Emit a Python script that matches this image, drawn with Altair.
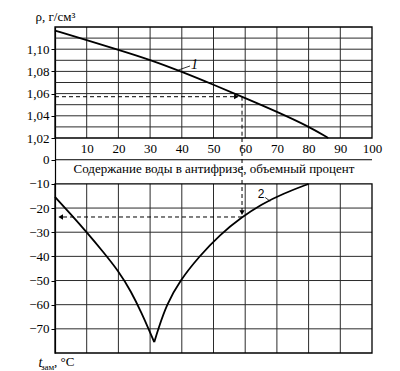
import altair as alt
import pandas as pd

# ---------------- data ----------------
water_1 = [0, 10, 20, 30, 40, 50, 60, 70, 80, 86.2]
density = [1.1167, 1.1082, 1.0995, 1.0905, 1.0797, 1.0680, 1.0560, 1.0437, 1.0305, 1.0200]

water_2_left = [0, 5, 10, 15, 20, 24, 27.5, 29.5, 31.3]
freeze_2_left = [-15.4, -22.6, -30, -37.8, -46, -54.5, -64, -70, -75.5]
water_2_right = [31.3, 32.6, 35.2, 39.4, 45.5, 52, 59, 65, 72, 80]
freeze_2_right = [-75.5, -70, -60, -50, -40, -31, -23.7, -18.5, -14, -10]

x_ticks = [10, 20, 30, 40, 50, 60, 70, 80, 90, 100]
x_grid = [10, 20, 30, 40, 50, 60, 70, 80, 90]
rho_ticks = [1.02, 1.04, 1.06, 1.08, 1.10]
rho_grid = [1.03, 1.04, 1.05, 1.06, 1.07, 1.08, 1.09, 1.10, 1.11]
t_ticks = [0, -10, -20, -30, -40, -50, -60, -70]
t_grid = [-20, -30, -40, -50, -60, -70]

x_dom = [0, 100]
rho_dom = [1.02, 1.12]
t_frame = [-10, -80]
t_dom = [-80, 9]

ex_water = 59        # worked example: 59 % water
ex_rho = 1.0572
ex_t = -23.7

SERIF = "Liberation Serif, Times New Roman, serif"
GRID = "#2b2b2b"
X_TITLE = "Содержание воды в антифризе, объемный процент"

xs = alt.Scale(domain=x_dom, nice=False, zero=False)
TOP = dict(domain=rho_dom, range=[111, 0], nice=False, zero=False)
BOT = dict(domain=t_dom, range=[326, 111], nice=False, zero=False)

x_axis = alt.Axis(values=x_ticks, orient="bottom", offset=-215, ticks=False, tickSize=0,
                  domain=False, grid=False, labelPadding=4, labelFont=SERIF, labelFontSize=13,
                  labelColor="black", labelFlush=False,
                  title=X_TITLE, titleFont=SERIF, titleFontSize=13, titleFontWeight="normal",
                  titleColor="black", titlePadding=7)

top_axis = alt.Axis(values=rho_ticks, orient="left", grid=False, domainColor="black",
                    domainWidth=1.2, tickColor="black", tickSize=4, labelPadding=2,
                    labelFont=SERIF, labelFontSize=13, labelColor="black",
                    labelExpr="replace(format(datum.value, '.2f'), '.', ',')",
                    title="ρ, г/см³", titleAngle=0, titleX=-20, titleY=-7,
                    titleAlign="left", titleBaseline="alphabetic", titleFont=SERIF,
                    titleFontSize=13, titleFontWeight="normal", titleColor="black")

bot_axis = alt.Axis(values=t_ticks, orient="left", grid=False, domainColor="black",
                    domainWidth=1.2, tickColor="black", tickSize=4, labelPadding=2,
                    labelFont=SERIF, labelFontSize=13, labelColor="black", format="d",
                    title="t", titleAngle=0, titleX=-17, titleY=339,
                    titleAlign="left", titleBaseline="alphabetic", titleFont=SERIF,
                    titleFontSize=14, titleFontWeight="normal", titleFontStyle="italic",
                    titleColor="black")


def enc(chart, panel, y2=False, x2=False, yaxis=None, **extra):
    sc = alt.Scale(**(TOP if panel == "top" else BOT))
    e = dict(x=alt.X("x:Q", scale=xs, axis=x_axis, title=X_TITLE),
             y=alt.Y("y:Q", scale=sc, axis=yaxis))
    if y2:
        e["y2"] = "y2:Q"
    if x2:
        e["x2"] = "x2:Q"
    e.update(extra)
    return chart.encode(**e)


dash = dict(color="black", strokeWidth=1, strokeDash=[4, 3])
layers = []

# ---------------- top panel (density) ----------------
layers.append(enc(alt.Chart(pd.DataFrame({"x": x_grid, "y": rho_dom[0], "y2": rho_dom[1]}))
                  .mark_rule(color=GRID, strokeWidth=1), "top", y2=True, yaxis=top_axis))
layers.append(enc(alt.Chart(pd.DataFrame({"y": rho_grid, "x": x_dom[0], "x2": x_dom[1]}))
                  .mark_rule(color=GRID, strokeWidth=1), "top", x2=True))
layers.append(enc(alt.Chart(pd.DataFrame({"x": [x_dom[0]], "x2": [x_dom[1]], "y": [rho_dom[0]], "y2": [rho_dom[1]]}))
                  .mark_rect(fill=None, stroke="black", strokeWidth=1.3), "top", x2=True, y2=True))
layers.append(enc(alt.Chart(pd.DataFrame({"x": water_1, "y": density}))
                  .mark_line(color="black", strokeWidth=1.8, interpolate="basis"), "top"))
layers.append(enc(alt.Chart(pd.DataFrame({"x": [0], "x2": [ex_water - 1.5], "y": [ex_rho]}))
                  .mark_rule(**dash), "top", x2=True))
layers.append(enc(alt.Chart(pd.DataFrame({"x": [ex_water], "y": [ex_rho], "y2": [rho_dom[0]]}))
                  .mark_rule(**dash), "top", y2=True))
layers.append(enc(alt.Chart(pd.DataFrame({"x": [ex_water - 1.8], "y": [ex_rho]}))
                  .mark_point(shape="triangle-right", filled=True, color="black", size=28, opacity=1), "top"))
layers.append(enc(alt.Chart(pd.DataFrame({"x": [38.9], "x2": [42.6], "y": [1.0812], "y2": [1.0849]}))
                  .mark_rule(color="black", strokeWidth=0.8), "top", x2=True, y2=True))
layers.append(enc(alt.Chart(pd.DataFrame({"x": [44], "y": [1.0857], "t": ["1"]}))
                  .mark_text(font=SERIF, fontSize=14, fontStyle="italic", color="black",
                             align="center", baseline="middle"), "top", text="t:N"))

# ---------------- bottom panel (freezing point) ----------------
c2 = pd.concat([
    pd.DataFrame({"x": water_2_left, "y": freeze_2_left, "b": "left"}),
    pd.DataFrame({"x": water_2_right, "y": freeze_2_right, "b": "right"}),
])
layers.append(enc(alt.Chart(pd.DataFrame({"x": x_grid, "y": t_frame[0], "y2": t_frame[1]}))
                  .mark_rule(color=GRID, strokeWidth=1), "bot", y2=True, yaxis=bot_axis))
layers.append(enc(alt.Chart(pd.DataFrame({"y": t_grid, "x": x_dom[0], "x2": x_dom[1]}))
                  .mark_rule(color=GRID, strokeWidth=1), "bot", x2=True))
layers.append(enc(alt.Chart(pd.DataFrame({"x": [x_dom[0]], "x2": [x_dom[1]], "y": [t_frame[0]], "y2": [t_frame[1]]}))
                  .mark_rect(fill=None, stroke="black", strokeWidth=1.3), "bot", x2=True, y2=True))
layers.append(enc(alt.Chart(pd.DataFrame({"y": [0], "x": [x_dom[0]], "x2": [x_dom[1]]}))
                  .mark_rule(color="black", strokeWidth=1), "bot", x2=True))
layers.append(enc(alt.Chart(c2).mark_line(color="black", strokeWidth=1.8, interpolate="basis"),
                  "bot", detail="b:N"))
layers.append(enc(alt.Chart(pd.DataFrame({"x": [ex_water], "y": [t_dom[1]], "y2": [ex_t + 2]}))
                  .mark_rule(**dash), "bot", y2=True))
layers.append(enc(alt.Chart(pd.DataFrame({"x": [ex_water], "y": [ex_t + 1.8]}))
                  .mark_point(shape="triangle-down", filled=True, color="black", size=28, opacity=1), "bot"))
layers.append(enc(alt.Chart(pd.DataFrame({"x": [ex_water], "x2": [1.5], "y": [ex_t]}))
                  .mark_rule(**dash), "bot", x2=True))
layers.append(enc(alt.Chart(pd.DataFrame({"x": [1.8], "y": [ex_t]}))
                  .mark_point(shape="triangle-left", filled=True, color="black", size=28, opacity=1), "bot"))
layers.append(enc(alt.Chart(pd.DataFrame({"x": [66.3], "x2": [67.9], "y": [-15.6], "y2": [-17.2]}))
                  .mark_rule(color="black", strokeWidth=0.8), "bot", x2=True, y2=True))
layers.append(enc(alt.Chart(pd.DataFrame({"x": [65], "y": [-14.0], "t": ["2"]}))
                  .mark_text(font="Liberation Sans", fontSize=12, color="black",
                             align="center", baseline="middle"), "bot", text="t:N"))
layers.append(enc(alt.Chart(pd.DataFrame({"x": [x_dom[0]], "y": [t_frame[1]], "t": ["зам"]}))
                  .mark_text(font=SERIF, fontSize=9, color="black", align="left",
                             baseline="alphabetic", dx=-14, dy=17), "bot", text="t:N"))
layers.append(enc(alt.Chart(pd.DataFrame({"x": [x_dom[0]], "y": [t_frame[1]], "t": [", °C"]}))
                  .mark_text(font=SERIF, fontSize=13, color="black", align="left",
                             baseline="alphabetic", dx=-1, dy=13), "bot", text="t:N"))

chart = alt.layer(*layers).resolve_scale(y="independent").properties(
    width=317, height=326,
    autosize=alt.AutoSizeParams(type="none"),
    padding={"left": 47, "top": 19, "right": 20, "bottom": 18},
).configure_view(stroke=None)

chart.save("out.html", embed_options={"renderer": "svg", "actions": False})
